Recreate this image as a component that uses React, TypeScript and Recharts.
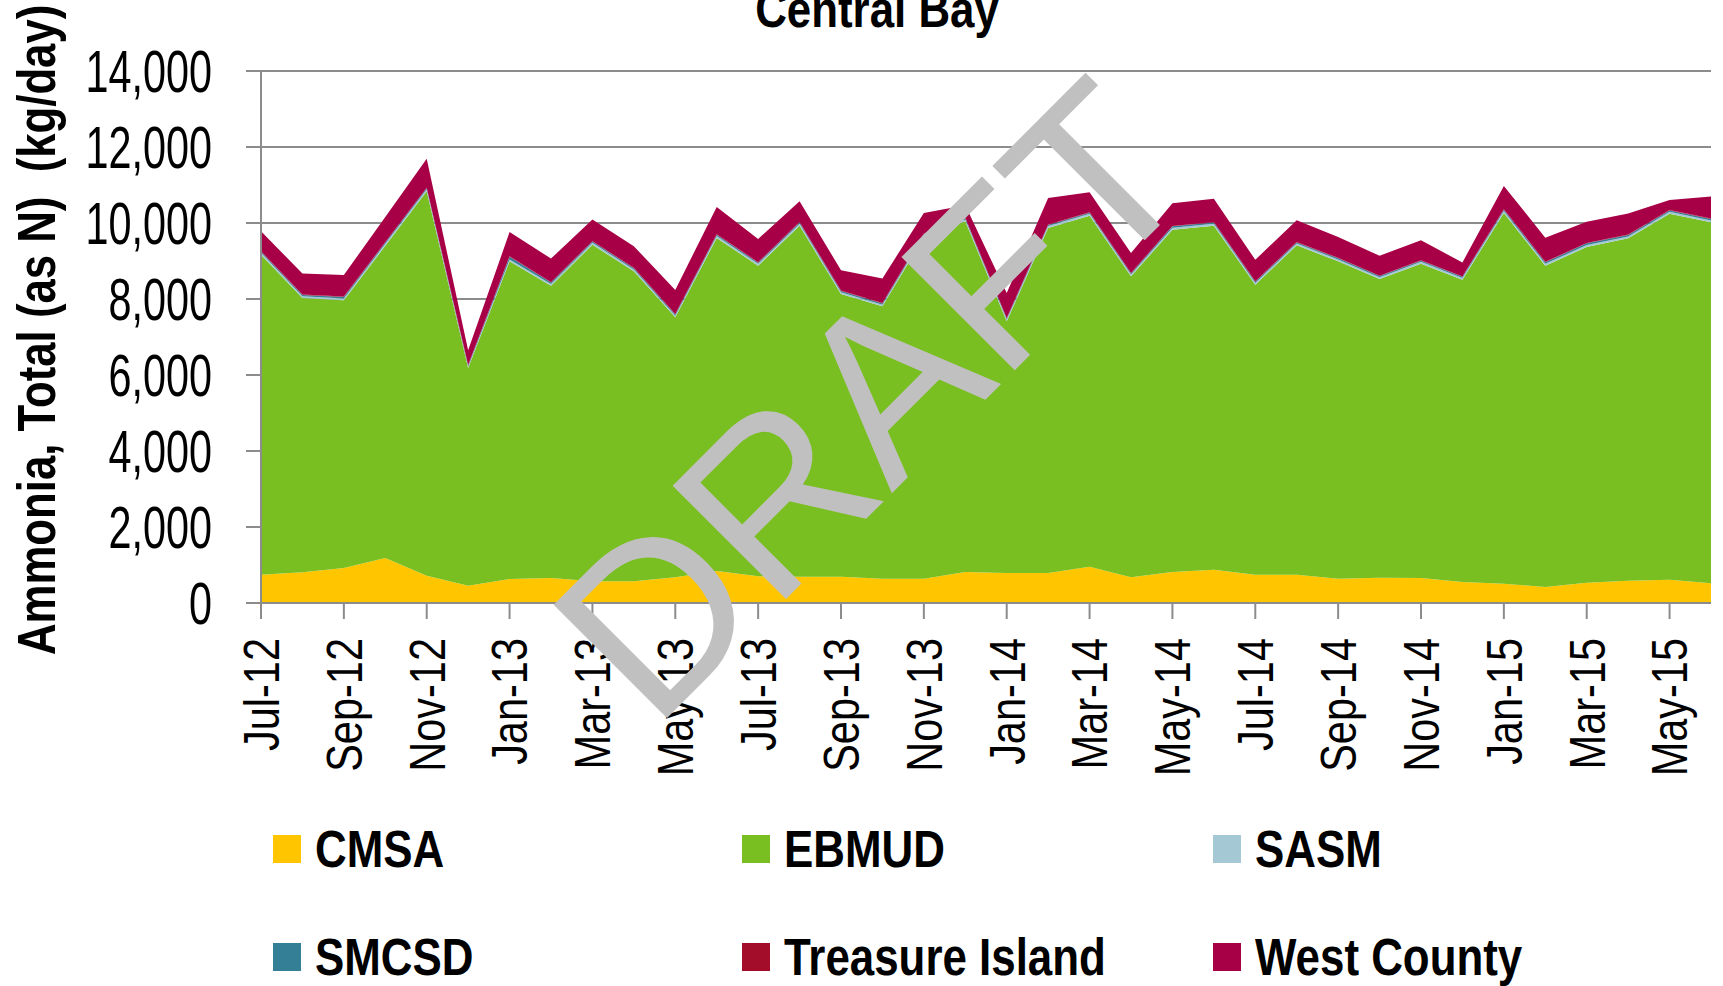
import { AreaChart, Area, XAxis, YAxis, CartesianGrid, Legend } from "recharts";

const months = [
  "Jul-12", "Aug-12", "Sep-12", "Oct-12", "Nov-12", "Dec-12",
  "Jan-13", "Feb-13", "Mar-13", "Apr-13", "May-13", "Jun-13",
  "Jul-13", "Aug-13", "Sep-13", "Oct-13", "Nov-13", "Dec-13",
  "Jan-14", "Feb-14", "Mar-14", "Apr-14", "May-14", "Jun-14",
  "Jul-14", "Aug-14", "Sep-14", "Oct-14", "Nov-14", "Dec-14",
  "Jan-15", "Feb-15", "Mar-15", "Apr-15", "May-15", "Jun-15",
];

const cmsa = [
  745, 807, 921, 1184, 719, 456, 631, 658, 570, 570, 675, 842,
  702, 693, 693, 640, 640, 816, 789, 789, 956, 675, 816, 877,
  745, 745, 640, 666, 658, 552, 509, 421, 535, 588, 614, 517,
];
const ebmud = [
  8422, 7220, 7044, 8216, 10114, 5729, 8360, 7693, 8860, 8158, 6843, 8763,
  8175, 9237, 7439, 7167, 8990, 9228, 6624, 9079, 9237, 7922, 9009, 9053,
  7633, 8667, 8351, 7861, 8272, 7957, 9754, 8456, 8834, 9009, 9630, 9501,
];
const sasm = [
  50, 45, 48, 52, 55, 40, 50, 45, 48, 50, 42, 50,
  48, 52, 45, 44, 50, 50, 45, 50, 48, 46, 52, 50,
  45, 48, 50, 46, 48, 44, 52, 48, 50, 50, 52, 50,
];
const smcsd = [
  30, 35, 40, 32, 30, 25, 70, 35, 32, 30, 30, 35,
  32, 30, 35, 30, 30, 30, 30, 30, 30, 30, 35, 35,
  30, 30, 30, 30, 30, 30, 35, 40, 45, 40, 35, 40,
];
const treasureIsland = [
  12, 12, 12, 12, 12, 10, 12, 12, 12, 12, 12, 12,
  12, 12, 12, 12, 12, 12, 12, 12, 12, 12, 12, 12,
  12, 12, 12, 12, 12, 12, 12, 12, 12, 12, 12, 12,
];
const westCounty = [
  524, 550, 568, 660, 761, 392, 638, 621, 568, 568, 638, 717,
  612, 550, 533, 647, 543, 330, 655, 700, 524, 524, 594, 611,
  567, 568, 551, 524, 524, 366, 612, 638, 559, 550, 261, 576,
];

const yTicks = [0, 2000, 4000, 6000, 8000, 10000, 12000, 14000];

const series = [
  { key: "cmsa", name: "CMSA", color: "#FFC600" },
  { key: "ebmud", name: "EBMUD", color: "#7ABF21" },
  { key: "sasm", name: "SASM", color: "#A5C8D5" },
  { key: "smcsd", name: "SMCSD", color: "#347F96" },
  { key: "ti", name: "Treasure Island", color: "#A30D2A" },
  { key: "wc", name: "West County", color: "#A80046" },
];

const data = months.map((m, i) => ({
  month: m,
  cmsa: cmsa[i],
  ebmud: ebmud[i],
  sasm: sasm[i],
  smcsd: smcsd[i],
  ti: treasureIsland[i],
  wc: westCounty[i],
}));

const FONT = "'Liberation Sans', Arial, sans-serif";
const GRAY = "#8C8C8C";

const YTick = (props: any) => {
  const { x, y, payload } = props;
  return (
    <g transform={`translate(${x},${y})`}>
      <text
        transform="scale(0.69,1)"
        textAnchor="end"
        y={0.358 * 60}
        fontSize={60}
        fontFamily={FONT}
        fill="#000"
      >
        {payload.value.toLocaleString("en-US")}
      </text>
    </g>
  );
};

const XTick = (props: any) => {
  const { x, y, payload } = props;
  return (
    <g transform={`translate(${x},${y})`}>
      <text
        transform="rotate(-90) scale(0.83,1)"
        textAnchor="end"
        y={0.358 * 50}
        fontSize={50}
        fontFamily={FONT}
        fill="#000"
      >
        {payload.value}
      </text>
    </g>
  );
};

const colX = [273, 742, 1213];
const rowY = [35, 143];

const LegendBox = () => (
  <div style={{ position: "relative", width: 1723, height: 186 }}>
    {series.map((s, i) => (
      <div
        key={s.key}
        style={{
          position: "absolute",
          left: colX[i % 3],
          top: rowY[Math.floor(i / 3)],
          height: 28,
          display: "flex",
          alignItems: "center",
          whiteSpace: "nowrap",
        }}
      >
        <div style={{ width: 28, height: 28, background: s.color }} />
        <span
          style={{
            marginLeft: 14,
            display: "inline-block",
            fontFamily: FONT,
            fontWeight: "bold",
            fontSize: 51,
            lineHeight: 1,
            transform: "scaleX(0.86)",
            transformOrigin: "left center",
            color: "#000",
          }}
        >
          {s.name}
        </span>
      </div>
    ))}
  </div>
);

export default function App() {
  return (
    <div
      style={{
        position: "absolute",
        left: 0,
        top: 0,
        width: 1723,
        height: 986,
        background: "#fff",
        overflow: "hidden",
      }}
    >
      <AreaChart
        width={1723}
        height={986}
        data={data}
        margin={{ top: 71, right: 12, bottom: 283, left: 61 }}
      >
        <CartesianGrid vertical={false} stroke={GRAY} strokeWidth={2} />
        <XAxis
          dataKey="month"
          interval={1}
          height={100}
          tickSize={16}
          tickMargin={19}
          axisLine={{ stroke: GRAY, strokeWidth: 2 }}
          tickLine={{ stroke: GRAY, strokeWidth: 2 }}
          tick={<XTick />}
        />
        <YAxis
          width={200}
          domain={[0, 14000]}
          ticks={yTicks}
          tickSize={15}
          tickMargin={34}
          axisLine={{ stroke: GRAY, strokeWidth: 2 }}
          tickLine={{ stroke: GRAY, strokeWidth: 2 }}
          tick={<YTick />}
        />
        {series.map((s) => (
          <Area
            key={s.key}
            type="linear"
            dataKey={s.key}
            name={s.name}
            stackId="1"
            stroke="none"
            fill={s.color}
            fillOpacity={1}
            isAnimationActive={false}
          />
        ))}
        <Legend
          layout="horizontal"
          verticalAlign="middle"
          wrapperStyle={{ top: 800, left: 0, width: 1723, height: 186 }}
          content={() => <LegendBox />}
        />
      </AreaChart>
      <svg
        width={1723}
        height={986}
        style={{ position: "absolute", left: 0, top: 0, pointerEvents: "none" }}
      >
        <text
          transform="translate(877,27) scale(0.86,1)"
          textAnchor="middle"
          fontSize={51}
          fontWeight="bold"
          fontFamily={FONT}
          fill="#000"
        >
          Central Bay
        </text>
        <text
          transform="translate(55,655) rotate(-90) scale(0.81,1)"
          fontSize={54}
          fontWeight="bold"
          fontFamily={FONT}
          fill="#000"
          style={{ whiteSpace: "pre" }}
        >
          {"Ammonia, Total (as N)  (kg/day)"}
        </text>
        <g transform="translate(869,398) rotate(-45)">
          <text
            textAnchor="middle"
            y={0.358 * 233}
            fontSize={233}
            fontFamily={FONT}
            fill="#C0C0C0"
          >
            DRAFT
          </text>
        </g>
      </svg>
    </div>
  );
}
